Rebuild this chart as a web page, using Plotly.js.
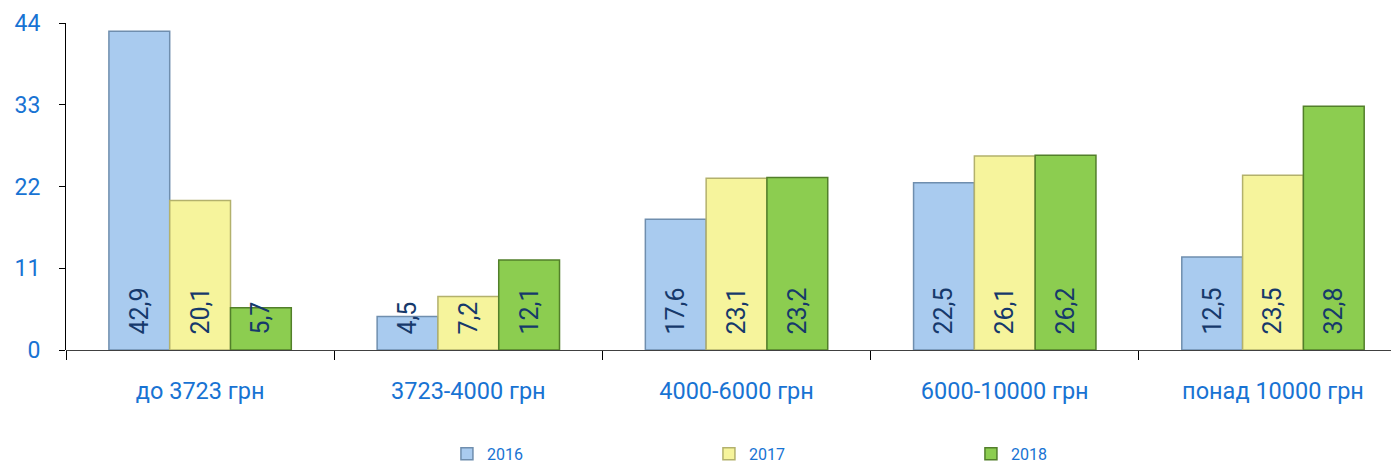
<!DOCTYPE html>
<html>
<head>
<meta charset="utf-8">
<script src="https://cdn.plot.ly/plotly-3.0.1.min.js"></script>
<style>html,body{margin:0;padding:0;background:#fff;overflow:hidden}</style>
</head>
<body>
<div id="chart" style="width:1391px;height:467px"></div>
<script>
const categories = ["до 3723 грн", "3723-4000 грн", "4000-6000 грн", "6000-10000 грн", "понад 10000 грн"];
const seriesNames = ["2016", "2017", "2018"];
const values2016 = [42.9, 4.5, 17.6, 22.5, 12.5];
const values2017 = [20.1, 7.2, 23.1, 26.1, 23.5];
const values2018 = [5.7, 12.1, 23.2, 26.2, 32.8];
const yTicks = [0, 11, 22, 33, 44];

const fills = ["#a9cbef", "#f6f49c", "#8ccd50"];
const borders = ["#6f8eae", "#b3b16c", "#527f2a"];
const FONT = "Roboto, 'Noto Sans', sans-serif";
const PAD = "\u00a0\u00a0";

function fmt(v) { return PAD + v.toFixed(1).replace(".", ","); }

const allVals = [values2016, values2017, values2018];
const traces = allVals.map((vals, i) => ({
  type: "bar",
  name: seriesNames[i],
  x: categories,
  y: vals,
  text: vals.map(fmt),
  textposition: "inside",
  insidetextanchor: "start",
  textangle: -90,
  constraintext: "none",
  cliponaxis: false,
  textfont: {family: FONT, size: 25, color: "#16396b"},
  marker: {color: fills[i], line: {color: borders[i], width: 1.5}},
  hoverinfo: "skip"
}));

const layout = {
  width: 1391, height: 467,
  margin: {l: 66, r: 0, t: 23, b: 117},
  paper_bgcolor: "#ffffff",
  plot_bgcolor: "#ffffff",
  barmode: "group",
  bargap: 0.32,
  bargroupgap: 0,
  showlegend: true,
  legend: {
    orientation: "h",
    x: 0.2875, xanchor: "left",
    yref: "container",
    y: 0.028, yanchor: "middle",
    font: {family: FONT, size: 16, color: "#1873d3"},
    entrywidth: 217, entrywidthmode: "pixels",
    itemwidth: 30,
    traceorder: "normal"
  },
  xaxis: {
    type: "category",
    range: [-0.5, 4.44],
    automargin: false,
    showgrid: false,
    zeroline: false,
    showline: false,
    ticks: "outside",
    tickson: "boundaries",
    ticklen: 9,
    tickcolor: "#000000",
    tickwidth: 1,
    ticklabelstandoff: 24,
    tickfont: {family: FONT, size: 23.5, color: "#1873d3"},
    fixedrange: true
  },
  yaxis: {
    range: [0, 44],
    automargin: false,
    tickvals: yTicks,
    ticktext: yTicks.map(String),
    showgrid: false,
    zeroline: true,
    zerolinecolor: "#404040",
    zerolinewidth: 1,
    showline: true,
    linecolor: "#000000",
    linewidth: 1,
    ticks: "outside",
    ticklen: 6,
    tickcolor: "#000000",
    ticklabelstandoff: 14,
    tickfont: {family: FONT, size: 23, color: "#1873d3"},
    fixedrange: true
  }
};

Plotly.newPlot("chart", traces, layout, {displayModeBar: false, staticPlot: true});
</script>
</body>
</html>
